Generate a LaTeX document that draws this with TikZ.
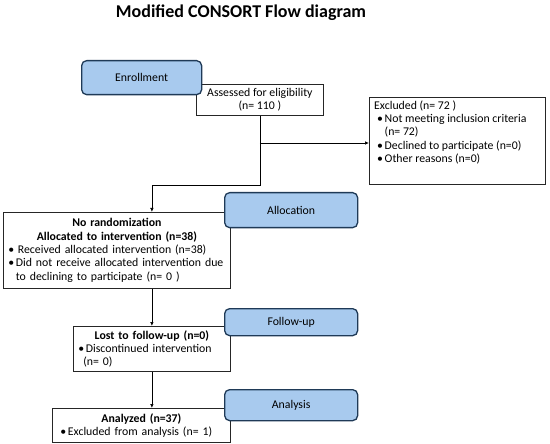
\documentclass[tikz,border=0pt]{standalone}
\usepackage{fontspec}
\setmainfont{Carlito}
\usepackage{tikz}
\usetikzlibrary{arrows.meta}

\definecolor{stagefill}{HTML}{A8CAEE}
\definecolor{stagedraw}{HTML}{1F3A57}
\newcommand{\itembullet}{\makebox[7.5pt][l]{\textbullet}}

\tikzset{
  stagebox/.style={draw=stagedraw, fill=stagefill, line width=1.3pt, rounded corners=5pt,
    anchor=north west, inner sep=0pt, minimum width=133, font=\fontsize{11.8}{13.3}\selectfont},
  countbox/.style={draw=black!85, fill=white, line width=0.8pt, anchor=north west,
    inner ysep=0pt, font=\fontsize{11.8}{13.3}\selectfont},
  flowarrow/.style={-{Latex[length=4pt,width=3.5pt]}, line width=0.7pt}
}

\begin{document}
\begin{tikzpicture}[x=1pt,y=1pt,yscale=-1,xscale=1]
\useasboundingbox (0,0) rectangle (550,444);

% Title
\node[font=\bfseries\fontsize{18}{20}\selectfont] (title) at (241,13) {Modified CONSORT Flow diagram};

%Shape: Rectangle [count boxes]
\node[countbox, minimum width=127, minimum height=31, inner xsep=0pt, align=center] (assess) at (196,84)
  {Assessed for eligibility\\(n= 110 )};
\node[countbox, minimum width=176, minimum height=87] (excl) at (369,97) {};
\node[anchor=north west, inner sep=0pt, align=left, font=\fontsize{11.8}{13.3}\selectfont] (excltext)
  at ([xshift=5pt,yshift=3.5pt]excl.north west)
  {Excluded (n= 72 )\\
   \hspace*{3pt}\itembullet Not meeting inclusion criteria\\
   \hspace*{10.5pt}(n= 72)\\
   \hspace*{3pt}\itembullet Declined to participate (n=0)\\
   \hspace*{3pt}\itembullet Other reasons (n=0)};
\node[countbox, minimum width=227, minimum height=76, inner xsep=5pt, text width=217] (norand) at (3,212)
  {{\centering\bfseries No randomization\\Allocated to intervention (n=38)\par}
   \raggedright\itembullet\hspace{2pt}Received allocated intervention (n=38)\\
   \itembullet Did not receive allocated intervention due\\
   \hspace*{7.5pt}to declining to participate (n= 0 )\par};
\node[countbox, minimum width=157, minimum height=45, inner xsep=5pt, text width=147] (lost) at (73,326)
  {{\centering\bfseries Lost to follow-up (n=0)\par}
   \raggedright\itembullet Discontinued intervention\\
   \hspace*{5pt}(n= 0)\par};
\node[countbox, minimum width=178, minimum height=34, inner xsep=8pt, text width=162] (analyzed) at (52,408)
  {{\centering\bfseries Analyzed (n=37)\par}
   \raggedright\itembullet Excluded from analysis (n= 1)\par};

%Straight Lines [connectors]
\coordinate (exclY) at (0,143);
\coordinate (turnY) at (0,185);
\draw[flowarrow] (assess.south |- exclY) -- (excl.west |- exclY);
\draw[flowarrow] (assess.south) |- (lost.north |- turnY) -- (lost.north |- norand.north);
\draw[flowarrow] (lost.north |- norand.south) -- (lost.north);
\draw[flowarrow] (lost.south) -- (lost.south |- analyzed.north);

%Shape: Rounded Rect [stage boxes]
\node[stagebox, minimum width=120, minimum height=34] (enroll) at (81,60) {Enrollment};
\node[stagebox, minimum height=35] (alloc) at (224,192) {Allocation};
\node[stagebox, minimum height=27] (follow) at (224,308) {Follow-up};
\node[stagebox, minimum height=31] (analysis) at (224,389) {Analysis};
\end{tikzpicture}
\end{document}
